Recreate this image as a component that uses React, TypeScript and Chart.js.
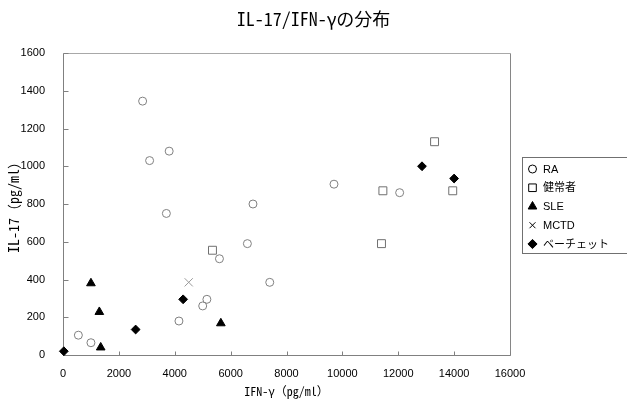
import React, { useEffect, useRef } from 'react';
import { Chart, registerables } from 'chart.js';

Chart.register(...registerables);

// ---- data ----
const chartTitle = 'IL-17/IFN-γの分布';
const xAxisTitle = 'IFN-γ（pg/ml）';
const yAxisTitle = 'IL-17（pg/ml）';
const seriesNames = ['RA', '健常者', 'SLE', 'MCTD', 'ベーチェット'];

const raX = [2850, 3100, 3800, 3700, 6800, 6600, 5600, 7400, 9700, 12050, 550, 1000, 4150, 5000, 5150];
const raY = [1345, 1030, 1080, 750, 800, 590, 510, 385, 905, 860, 105, 65, 180, 260, 295];
const healthyX = [5350, 13300, 11450, 13950, 11400];
const healthyY = [555, 1130, 870, 870, 590];
const sleX = [1000, 1300, 1350, 5650];
const sleY = [380, 228, 40, 168];
const mctdX = [4500];
const mctdY = [385];
const behcetX = [30, 2600, 4300, 12850, 14000];
const behcetY = [20, 135, 295, 1000, 935];

const xMin = 0;
const xMax = 16000;
const xStep = 2000;
const yMin = 0;
const yMax = 1600;
const yStep = 200;

// ---- styles ----
const CJK_MONO = '"Noto Sans Mono CJK JP", "Noto Sans CJK JP", monospace';
const LEGEND_FONT = '"Liberation Sans", "Noto Sans CJK JP", sans-serif';
const TICK_FONT = '"Liberation Sans", Arial, sans-serif';

const toPoints = (xs: number[], ys: number[]) => xs.map((x, i) => ({ x, y: ys[i] }));

type Mark = { style: string; fill: string; stroke: string; r: number };
const legendMarks: Mark[] = [
  { style: 'circle', fill: '#ffffff', stroke: '#000000', r: 4 },
  { style: 'rect', fill: '#ffffff', stroke: '#000000', r: 3.8 },
  { style: 'triangle', fill: '#000000', stroke: '#000000', r: 5 },
  { style: 'crossRot', fill: '#000000', stroke: '#000000', r: 4.2 },
  { style: 'rectRot', fill: '#000000', stroke: '#000000', r: 4.6 },
];

function drawMark(ctx: CanvasRenderingContext2D, m: Mark, x: number, y: number) {
  const r = m.r;
  ctx.save();
  ctx.lineWidth = 1;
  ctx.strokeStyle = m.stroke;
  ctx.fillStyle = m.fill;
  ctx.beginPath();
  switch (m.style) {
    case 'circle':
      ctx.arc(x, y, r, 0, Math.PI * 2);
      ctx.fill();
      ctx.stroke();
      break;
    case 'rect':
      ctx.rect(x - r, y - r, 2 * r, 2 * r);
      ctx.fill();
      ctx.stroke();
      break;
    case 'triangle': {
      const h = r * 0.866;
      ctx.moveTo(x, y - r);
      ctx.lineTo(x + h, y + r / 2);
      ctx.lineTo(x - h, y + r / 2);
      ctx.closePath();
      ctx.fill();
      ctx.stroke();
      break;
    }
    case 'crossRot': {
      const d = r * Math.SQRT1_2;
      ctx.moveTo(x - d, y - d);
      ctx.lineTo(x + d, y + d);
      ctx.moveTo(x + d, y - d);
      ctx.lineTo(x - d, y + d);
      ctx.stroke();
      break;
    }
    case 'rectRot':
      ctx.moveTo(x - r, y);
      ctx.lineTo(x, y - r);
      ctx.lineTo(x + r, y);
      ctx.lineTo(x, y + r);
      ctx.closePath();
      ctx.fill();
      ctx.stroke();
      break;
  }
  ctx.restore();
}

const framePlugin = {
  id: 'frame',
  beforeDatasetsDraw(chart: any) {
    const { ctx, chartArea: a, scales } = chart;
    const L = Math.round(a.left) + 0.5;
    const R = Math.round(a.right) + 0.5;
    const T = Math.round(a.top) + 0.5;
    const B = Math.round(a.bottom) + 0.5;
    ctx.save();
    ctx.lineWidth = 1;
    ctx.strokeStyle = '#a8a8a8';
    ctx.beginPath();
    ctx.moveTo(L, T);
    ctx.lineTo(R, T);
    ctx.stroke();
    ctx.strokeStyle = '#868686';
    ctx.beginPath();
    ctx.moveTo(R, T);
    ctx.lineTo(R, B);
    ctx.stroke();
    ctx.strokeStyle = '#808080';
    ctx.beginPath();
    ctx.moveTo(L, T);
    ctx.lineTo(L, B);
    ctx.moveTo(L, B);
    ctx.lineTo(R, B);
    ctx.stroke();
    ctx.beginPath();
    for (const t of scales.x.ticks) {
      const px = Math.round(scales.x.getPixelForValue(t.value)) + 0.5;
      ctx.moveTo(px, B);
      ctx.lineTo(px, B - 4);
    }
    for (const t of scales.y.ticks) {
      const py = Math.round(scales.y.getPixelForValue(t.value)) + 0.5;
      ctx.moveTo(L, py);
      ctx.lineTo(L + 5, py);
    }
    ctx.stroke();
    ctx.restore();
  },
};

const legendPlugin = {
  id: 'boxLegend',
  afterDraw(chart: any) {
    const { ctx, chartArea: a } = chart;
    const left = Math.round(a.right) + 12.5;
    const top = 157.5;
    const bottom = 253.5;
    ctx.save();
    ctx.strokeStyle = '#707070';
    ctx.lineWidth = 1;
    ctx.strokeRect(left, top, chart.width - left + 2, bottom - top);
    ctx.font = `11px ${LEGEND_FONT}`;
    ctx.fillStyle = '#000000';
    ctx.textBaseline = 'middle';
    ctx.textAlign = 'left';
    chart.data.datasets.forEach((ds: any, i: number) => {
      const cy = 169 + i * 18.75;
      drawMark(ctx, legendMarks[i], left + 10, cy);
      ctx.fillText(ds.label, left + 20.5, cy + 0.5);
    });
    ctx.restore();
  },
};

const plainNumber = (v: any) => String(v);

export default function App() {
  const ref = useRef<HTMLCanvasElement>(null);

  useEffect(() => {
    const canvas = ref.current;
    if (!canvas) return;
    const gray = '#808080';
    const chart = new Chart(canvas, {
      type: 'scatter',
      data: {
        datasets: [
          {
            label: seriesNames[0],
            data: toPoints(raX, raY),
            pointStyle: 'circle',
            pointRadius: 4,
            backgroundColor: 'rgba(255,255,255,0)',
            borderColor: gray,
            pointBorderWidth: 1,
            clip: false,
          },
          {
            label: seriesNames[1],
            data: toPoints(healthyX, healthyY),
            pointStyle: 'rect',
            pointRadius: 5.6,
            backgroundColor: 'rgba(255,255,255,0)',
            borderColor: '#707070',
            pointBorderWidth: 1,
            clip: false,
          },
          {
            label: seriesNames[2],
            data: toPoints(sleX, sleY),
            pointStyle: 'triangle',
            pointRadius: 5,
            backgroundColor: '#000000',
            borderColor: '#000000',
            pointBorderWidth: 1,
            clip: false,
          },
          {
            label: seriesNames[3],
            data: toPoints(mctdX, mctdY),
            pointStyle: 'crossRot',
            pointRadius: 5.8,
            backgroundColor: '#999999',
            borderColor: '#999999',
            pointBorderWidth: 1,
            clip: false,
          },
          {
            label: seriesNames[4],
            data: toPoints(behcetX, behcetY),
            pointStyle: 'rectRot',
            pointRadius: 4.4,
            backgroundColor: '#000000',
            borderColor: '#000000',
            pointBorderWidth: 1,
            clip: false,
          },
        ] as any,
      },
      options: {
        responsive: false,
        animation: false,
        devicePixelRatio: 1,
        events: [],
        layout: { padding: 0 },
        plugins: {
          legend: { display: false },
          tooltip: { enabled: false },
          title: {
            display: true,
            text: chartTitle,
            color: '#000000',
            font: { family: CJK_MONO, size: 18, weight: 'normal' as any, lineHeight: 1.2 },
            padding: { top: 8, bottom: 23.4 },
          },
        },
        scales: {
          x: {
            type: 'linear',
            position: 'bottom',
            min: xMin,
            max: xMax,
            grid: { display: false },
            border: { display: false },
            ticks: {
              stepSize: xStep,
              color: '#000000',
              padding: 4,
              maxRotation: 0,
              callback: plainNumber,
              font: { family: TICK_FONT, size: 11 },
            },
            title: {
              display: true,
              text: xAxisTitle,
              color: '#000000',
              font: { family: CJK_MONO, size: 12, lineHeight: 1.2 },
              padding: { top: 0, bottom: 8.8 },
            },
            afterFit: (s: any) => {
              s.height = 52;
            },
          },
          y: {
            type: 'linear',
            position: 'left',
            min: yMin,
            max: yMax,
            grid: { display: false },
            border: { display: false },
            ticks: {
              stepSize: yStep,
              color: '#000000',
              padding: 10,
              callback: plainNumber,
              font: { family: TICK_FONT, size: 11 },
            },
            title: {
              display: true,
              text: yAxisTitle,
              color: '#000000',
              font: { family: CJK_MONO, size: 14, lineHeight: 1.2 },
              padding: { top: 5.6, bottom: 0 },
            },
            afterFit: (s: any) => {
              s.width = 63;
            },
          },
          legendSpace: {
            type: 'linear',
            position: 'right',
            axis: 'y',
            display: true,
            grid: { display: false },
            border: { display: false },
            ticks: { display: false },
            afterFit: (s: any) => {
              s.width = 117;
            },
          },
        } as any,
      },
      plugins: [framePlugin, legendPlugin],
    });
    return () => chart.destroy();
  }, []);

  return (
    <div style={{ position: 'fixed', left: 0, top: 0, width: 627, height: 407, background: '#ffffff' }}>
      <canvas ref={ref} width={627} height={407} style={{ display: 'block' }} />
    </div>
  );
}
